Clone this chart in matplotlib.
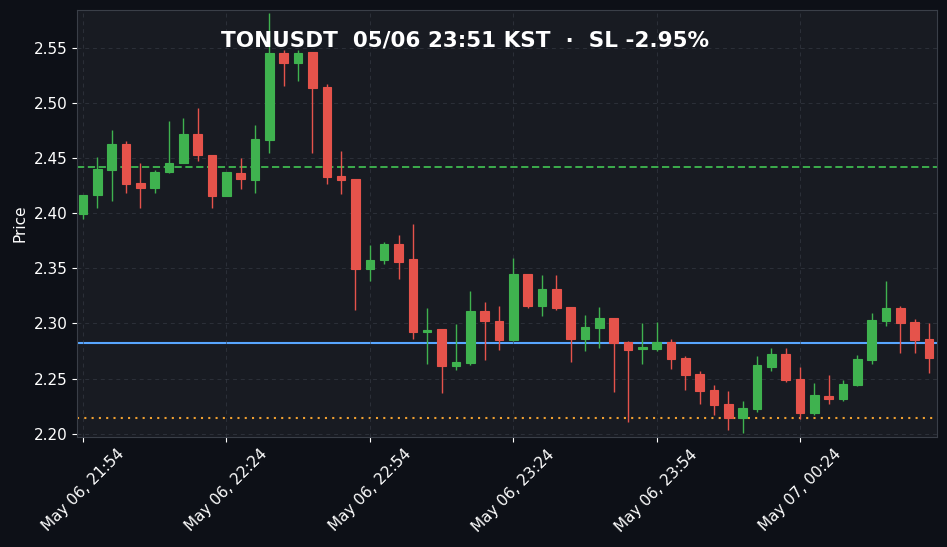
import matplotlib
matplotlib.use("Agg")
import matplotlib.pyplot as plt
import numpy as np

opens  = [2.399,2.416,2.439,2.463,2.427,2.423,2.437,2.445,2.472,2.453,
          2.415,2.436,2.430,2.466,2.545,2.536,2.546,2.514,2.434,2.431,
          2.349,2.357,2.372,2.358,2.292,2.295,2.261,2.264,2.311,2.302,
          2.285,2.345,2.316,2.331,2.315,2.286,2.296,2.305,2.283,2.277,
          2.277,2.283,2.269,2.254,2.240,2.227,2.214,2.222,2.260,2.272,
          2.250,2.219,2.234,2.231,2.244,2.267,2.302,2.314,2.301,2.286]
closes = [2.416,2.440,2.463,2.426,2.423,2.437,2.445,2.472,2.453,2.415,
          2.437,2.431,2.467,2.545,2.536,2.545,2.513,2.433,2.430,2.349,
          2.357,2.372,2.356,2.292,2.294,2.261,2.265,2.311,2.302,2.285,
          2.345,2.316,2.331,2.314,2.286,2.297,2.305,2.282,2.276,2.278,
          2.283,2.268,2.253,2.239,2.226,2.214,2.223,2.262,2.272,2.249,
          2.219,2.235,2.231,2.245,2.268,2.303,2.314,2.300,2.285,2.269]
highs  = [2.416,2.451,2.475,2.465,2.445,2.439,2.483,2.486,2.495,2.453,
          2.437,2.450,2.480,2.581,2.548,2.548,2.546,2.517,2.456,2.431,
          2.371,2.374,2.380,2.390,2.314,2.295,2.299,2.329,2.319,2.316,
          2.359,2.345,2.344,2.344,2.315,2.308,2.315,2.305,2.284,2.300,
          2.301,2.286,2.270,2.257,2.244,2.239,2.230,2.270,2.278,2.278,
          2.260,2.246,2.253,2.249,2.271,2.309,2.338,2.316,2.304,2.300]
lows   = [2.395,2.405,2.411,2.418,2.405,2.418,2.436,2.445,2.447,2.405,
          2.415,2.422,2.418,2.454,2.515,2.520,2.454,2.426,2.417,2.312,
          2.338,2.354,2.340,2.286,2.263,2.237,2.258,2.262,2.267,2.276,
          2.284,2.314,2.307,2.312,2.265,2.275,2.278,2.238,2.211,2.263,
          2.275,2.259,2.240,2.227,2.217,2.203,2.201,2.220,2.257,2.247,
          2.213,2.217,2.227,2.230,2.243,2.263,2.298,2.273,2.273,2.255]
tick_idx = [0,10,20,30,40,50]
tick_labels = ["May 06, 21:54","May 06, 22:24","May 06, 22:54",
               "May 06, 23:24","May 06, 23:54","May 07, 00:24"]
level_tp = 2.442
level_entry = 2.2825
level_sl = 2.2145
title = "TONUSDT  05/06 23:51 KST  ·  SL -2.95%"

GREEN = "#3fb24f"; RED = "#e5534b"
fig = plt.figure(figsize=(9.47,5.47), dpi=100, facecolor="#0d1017")
ax = fig.add_axes([77/947, 1-437/547, 860/947, 427/547], facecolor="#181b22")
x = np.arange(len(opens))
o = np.array(opens); c = np.array(closes)
cols = [GREEN if cc >= oo else RED for oo, cc in zip(o, c)]
ax.vlines(x, lows, highs, colors=cols, linewidth=1, zorder=2)
ax.bar(x, np.maximum(np.abs(c-o), 0.0015), bottom=np.minimum(o, c), width=0.6,
       color=cols, edgecolor=cols, linewidth=0.8, zorder=3)
ax.axhline(level_tp, color="#3fb950", ls=(0,(4,2)), lw=1.3, zorder=1)
ax.axhline(level_entry, color="#58a6ff", ls="-", lw=1.5, zorder=1)
ax.axhline(level_sl, color="#f0a030", ls=(0,(1,2.5)), lw=1.5, zorder=1)
ax.set_xlim(-0.42, 59.55)
ax.set_ylim(2.197, 2.584)
ax.set_yticks(np.arange(2.20, 2.56, 0.05))
ax.set_xticks(tick_idx)
ax.set_xticklabels(tick_labels, rotation=45, ha="center")
ax.tick_params(colors="white", labelsize=11)
ax.set_ylabel("Price", color="white", fontsize=11)
ax.grid(True, color="#3a3f48", ls=(0,(4,4)), lw=0.7, alpha=0.6)
for s in ax.spines.values():
    s.set_color("#3a3f48")
fig.text(465/947, 1-41/547, title, color="white", fontsize=15.5, fontweight="bold",
         ha="center", va="center")
fig.savefig("out.png", dpi=100, facecolor=fig.get_facecolor())
